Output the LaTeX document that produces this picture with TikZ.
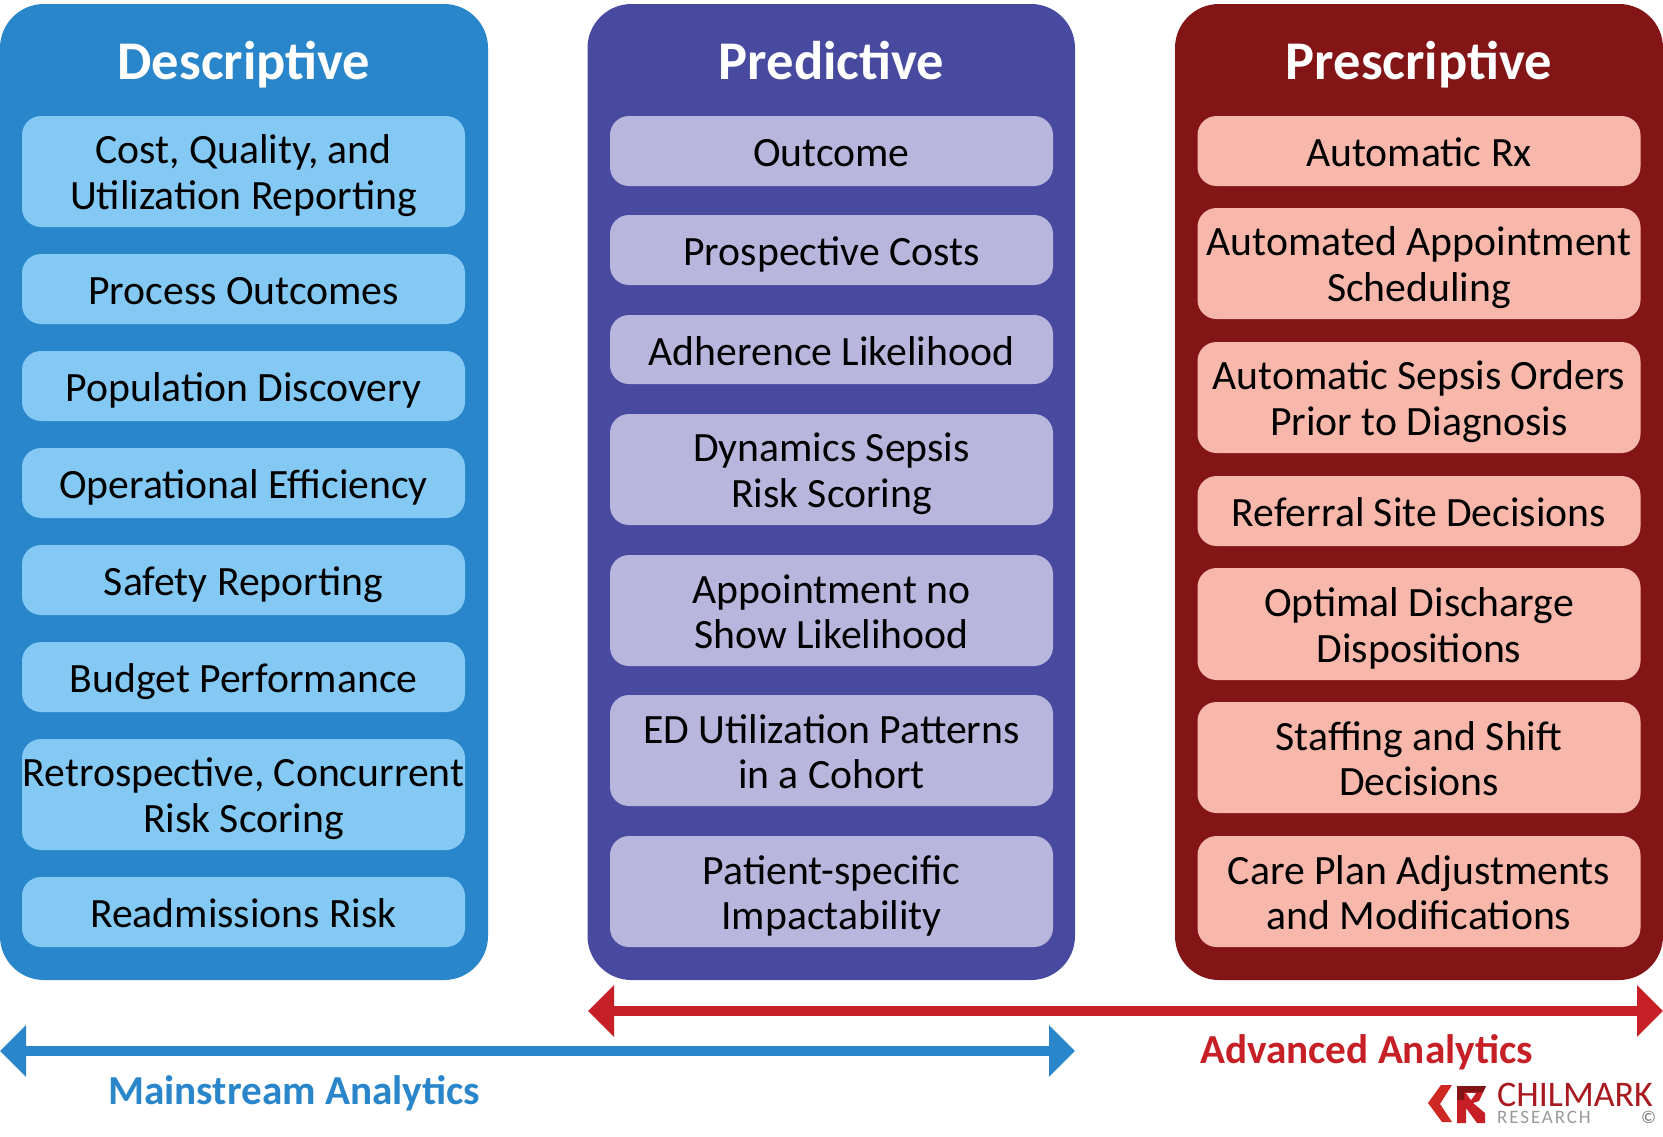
\documentclass[tikz,border=0pt]{standalone}
\usepackage{fontspec}
\usetikzlibrary{arrows.meta}
\setmainfont{Carlito}
\definecolor{cblue}{HTML}{2A86CA}
\definecolor{lblue}{HTML}{83C9F4}
\definecolor{cindigo}{HTML}{474A9F}
\definecolor{lindigo}{HTML}{B9B6DE}
\definecolor{cmaroon}{HTML}{841517}
\definecolor{lsalmon}{HTML}{F7B8AB}
\definecolor{cred}{HTML}{C71F26}
\definecolor{cgray}{HTML}{9A9A9A}
\tikzset{
 panel/.style={rounded corners=44pt,line width=0pt},
 item/.style={rounded corners=19pt,line width=0pt},
 txt/.style={font=\fontsize{41.7}{45.6}\selectfont,align=center,text=black,inner sep=0pt},
 ttl/.style={font=\fontsize{54.5}{54.5}\selectfont\bfseries,text=white,inner sep=0pt,anchor=base},
 lab/.style={font=\fontsize{41.2}{41.2}\selectfont\bfseries,inner sep=0pt,anchor=base west},
 span/.style={line width=9.5pt,{Triangle[length=26pt,width=50pt]}-{Triangle[length=26pt,width=50pt]}},
}
\newcommand{\st}{\rule[-6.5pt]{0pt}{44pt}}
\newcommand{\itembox}[6]{% name,x1,y1,y2,fill,text
 \path[item,fill=#5] (#2,#3) rectangle (#2+443,#4);
 \node[txt] (#1) at (#2+221.5,{(#3+#4)/2}) {\st #6\st};
}
\begin{document}
\begin{tikzpicture}[x=1pt,y=-1pt]
\useasboundingbox (0,0) rectangle (1663,1136);
\fill[white] (0,0) rectangle (1663,1136);
\path[panel,fill=cblue] (0,4) rectangle (488,980);
\path[panel,fill=cindigo] (587.5,4) rectangle (1075,980);
\path[panel,fill=cmaroon] (1175,4) rectangle (1663,980);
\node[ttl] (t1) at (244,79) {Descriptive};
\node[ttl] (t2) at (831.5,79) {Predictive};
\node[ttl] (t3) at (1419,79) {Prescriptive};
% column 1
\itembox{a1}{22}{116}{227}{lblue}{Cost, Quality, and\\Utilization Reporting}
\itembox{a2}{22}{254}{324}{lblue}{Process Outcomes}
\itembox{a3}{22}{351}{421}{lblue}{Population Discovery}
\itembox{a4}{22}{448}{518}{lblue}{Operational Efficiency}
\itembox{a5}{22}{545}{615}{lblue}{Safety Reporting}
\itembox{a6}{22}{642}{712}{lblue}{Budget Performance}
\itembox{a7}{22}{739}{850}{lblue}{Retrospective, Concurrent\\Risk Scoring}
\itembox{a8}{22}{877}{947}{lblue}{Readmissions Risk}
% column 2
\itembox{b1}{610}{116}{186}{lindigo}{Outcome}
\itembox{b2}{610}{215}{285}{lindigo}{Prospective Costs}
\itembox{b3}{610}{315}{384}{lindigo}{Adherence Likelihood}
\itembox{b4}{610}{414}{525}{lindigo}{Dynamics Sepsis\\Risk Scoring}
\itembox{b5}{610}{555}{666}{lindigo}{Appointment no\\Show Likelihood}
\itembox{b6}{610}{695}{806}{lindigo}{ED Utilization Patterns\\in a Cohort}
\itembox{b7}{610}{836}{947}{lindigo}{Patient-specific\\Impactability}
% column 3
\itembox{c1}{1197.5}{116}{186}{lsalmon}{Automatic Rx}
\itembox{c2}{1197.5}{208}{319}{lsalmon}{Automated Appointment\\Scheduling}
\itembox{c3}{1197.5}{342}{453}{lsalmon}{Automatic Sepsis Orders\\Prior to Diagnosis}
\itembox{c4}{1197.5}{476}{546}{lsalmon}{Referral Site Decisions}
\itembox{c5}{1197.5}{568}{680}{lsalmon}{Optimal Discharge\\Dispositions}
\itembox{c6}{1197.5}{702}{813}{lsalmon}{Staffing and Shift\\Decisions}
\itembox{c7}{1197.5}{836}{947}{lsalmon}{Care Plan Adjustments\\and Modifications}
% arrows
\coordinate (rl) at (588,1011);
\coordinate (rr) at (1663,1011);
\coordinate (bl) at (0,1051);
\coordinate (br) at (1075,1051);
\draw[span,draw=cred,fill=cred] (rl) -- (rr);
\draw[span,draw=cblue,fill=cblue] (bl) -- (br);
\node[lab,text=cred] (adv) at (1200,1063) {Advanced Analytics};
\node[lab,text=cblue] (main) at (108,1104) {Mainstream Analytics};
% logo
\fill[cred!90!orange] (1428,1103) -- (1441,1085) -- (1452,1085) -- (1440,1104) -- (1452,1122) -- (1442,1122) -- cycle;
\fill[cred] (1457,1086) -- (1486,1086) -- (1479,1101) -- (1473,1103) -- (1485,1113) -- (1485,1123) -- (1477,1123) -- (1466,1108) -- (1466,1123) -- (1457,1123) -- cycle;
\fill[cmaroon] (1457,1086) -- (1486,1086) -- (1483,1092) -- (1464,1092) -- (1464,1100) -- (1457,1100) -- cycle;
\fill[white] (1466,1093) -- (1476,1093) -- (1471,1100) -- cycle;
\node[inner sep=0pt,anchor=base west,text=cred!85!black,font=\fontsize{36}{36}\selectfont] (chil) at (1497,1106) {CHILMARK};
\node[inner sep=0pt,anchor=base west,text=cgray,font=\fontsize{19}{19}\selectfont\addfontfeatures{LetterSpace=10}] (res) at (1497,1123) {RESEARCH};
\node[inner sep=0pt,anchor=base west,text=black!55,font=\fontsize{18}{18}\selectfont] (cp) at (1641,1123) {©};
\end{tikzpicture}
\end{document}
